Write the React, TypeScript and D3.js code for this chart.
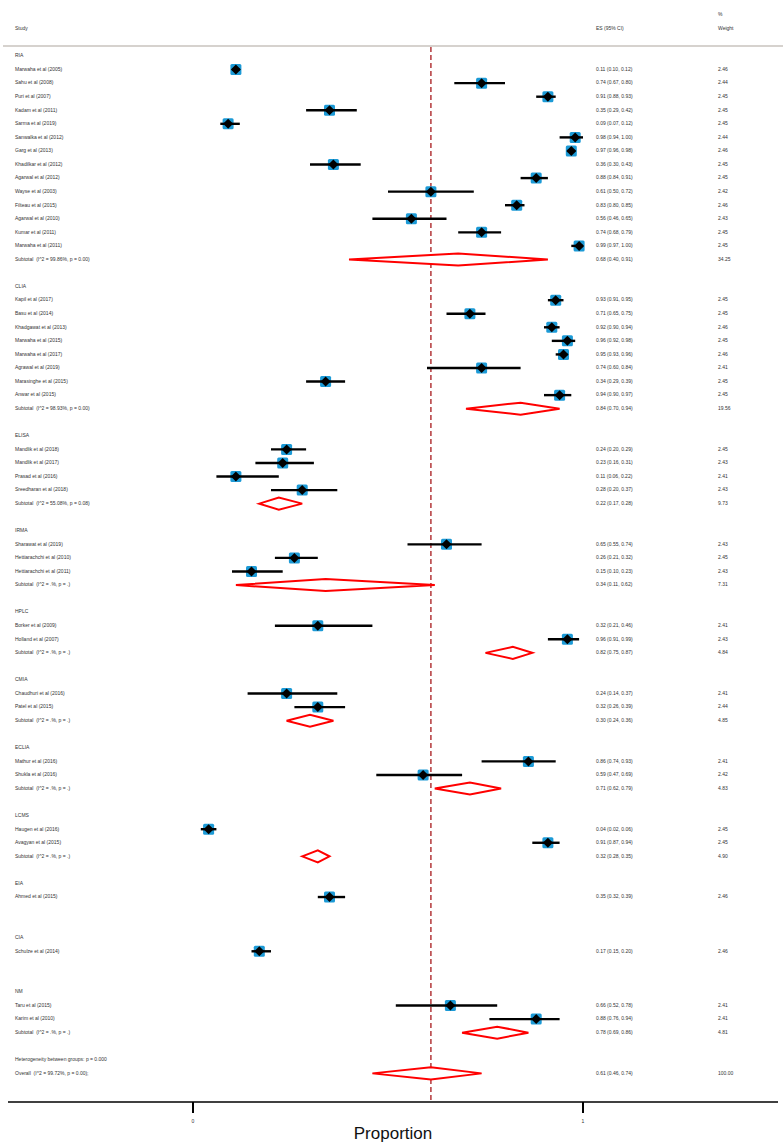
import React from "react";
import * as d3 from "d3";

// ---- Data ----
const groupNames = ["RIA", "CLIA", "ELISA", "IRMA", "HPLC", "CMIA", "ECLIA", "LCMS", "EIA", "CIA", "NM"];
const groupHet = [
  "(I^2 = 99.86%, p = 0.00)", "(I^2 = 98.93%, p = 0.00)", "(I^2 = 55.08%, p = 0.08)",
  "(I^2 = .%, p = .)", "(I^2 = .%, p = .)", "(I^2 = .%, p = .)", "(I^2 = .%, p = .)",
  "(I^2 = .%, p = .)", null, null, "(I^2 = .%, p = .)",
];
const groupES = [0.68, 0.84, 0.22, 0.34, 0.82, 0.30, 0.71, 0.32, null, null, 0.78];
const groupLo = [0.40, 0.70, 0.17, 0.11, 0.75, 0.24, 0.62, 0.28, null, null, 0.69];
const groupHi = [0.91, 0.94, 0.28, 0.62, 0.87, 0.36, 0.79, 0.35, null, null, 0.86];
const groupWeight = ["34.25", "19.56", "9.73", "7.31", "4.84", "4.85", "4.83", "4.90", null, null, "4.81"];

const studyNames = [
  "Marwaha et al (2005)", "Sahu et al  (2008)", "Puri et al (2007)", "Kadam et al (2011)",
  "Sarma et al (2019)", "Sanwalka et al (2012)", "Garg et al  (2013)", "Khadilkar et al (2012)",
  "Agarwal et al  (2012)", "Wayse et al (2003)", "Filteau et al (2015)", "Agarwal et al  (2010)",
  "Kumar et al (2011)", "Marwaha et al (2011)",
  "Kapil et al  (2017)", "Basu et al (2014)", "Khadgawat et al  (2013)", "Marwaha et al  (2015)",
  "Marwaha et al  (2017)", "Agrawal et al  (2019)", "Marasinghe et al  (2015)", "Anwar et al  (2015)",
  "Mandlik et al  (2018)", "Mandlik et al  (2017)", "Prasad et al (2016)", "Sreedharan et al  (2018)",
  "Sharawat et al  (2019)", "Hettiarachchi et al  (2010)", "Hettiarachchi et al  (2011)",
  "Borker et al  (2009)", "Holland et al  (2007)",
  "Chaudhuri et al  (2016)", "Patel et al  (2015)",
  "Mathur et al  (2016)", "Shukla et al  (2016)",
  "Haugen et al (2016)", "Avagyan et al (2015)",
  "Ahmed et al  (2015)",
  "Schulze et al  (2014)",
  "Taru et al  (2015)", "Karim et al (2010)",
];
const studyGroup = [
  0, 0, 0, 0, 0, 0, 0, 0, 0, 0, 0, 0, 0, 0,
  1, 1, 1, 1, 1, 1, 1, 1,
  2, 2, 2, 2,
  3, 3, 3,
  4, 4,
  5, 5,
  6, 6,
  7, 7,
  8,
  9,
  10, 10,
];
const studyES = [
  0.11, 0.74, 0.91, 0.35, 0.09, 0.98, 0.97, 0.36, 0.88, 0.61, 0.83, 0.56, 0.74, 0.99,
  0.93, 0.71, 0.92, 0.96, 0.95, 0.74, 0.34, 0.94,
  0.24, 0.23, 0.11, 0.28,
  0.65, 0.26, 0.15,
  0.32, 0.96,
  0.24, 0.32,
  0.86, 0.59,
  0.04, 0.91,
  0.35,
  0.17,
  0.66, 0.88,
];
const studyLo = [
  0.10, 0.67, 0.88, 0.29, 0.07, 0.94, 0.96, 0.30, 0.84, 0.50, 0.80, 0.46, 0.68, 0.97,
  0.91, 0.65, 0.90, 0.92, 0.93, 0.60, 0.29, 0.90,
  0.20, 0.16, 0.06, 0.20,
  0.55, 0.21, 0.10,
  0.21, 0.91,
  0.14, 0.26,
  0.74, 0.47,
  0.02, 0.87,
  0.32,
  0.15,
  0.52, 0.76,
];
const studyHi = [
  0.12, 0.80, 0.93, 0.42, 0.12, 1.00, 0.98, 0.43, 0.91, 0.72, 0.85, 0.65, 0.79, 1.00,
  0.95, 0.75, 0.94, 0.98, 0.96, 0.84, 0.39, 0.97,
  0.29, 0.31, 0.22, 0.37,
  0.74, 0.32, 0.23,
  0.46, 0.99,
  0.37, 0.39,
  0.93, 0.69,
  0.06, 0.94,
  0.39,
  0.20,
  0.78, 0.94,
];
const studyWeight = [
  "2.46", "2.44", "2.45", "2.45", "2.45", "2.44", "2.46", "2.45", "2.45", "2.42", "2.46", "2.43", "2.45", "2.45",
  "2.45", "2.45", "2.46", "2.45", "2.46", "2.41", "2.45", "2.45",
  "2.45", "2.43", "2.41", "2.43",
  "2.43", "2.45", "2.43",
  "2.41", "2.43",
  "2.41", "2.44",
  "2.41", "2.42",
  "2.45", "2.45",
  "2.46",
  "2.46",
  "2.41", "2.41",
];
const overall = { es: 0.61, lo: 0.46, hi: 0.74, weight: "100.00", het: "(I^2 = 99.72%, p = 0.00);" };
const betweenText = "Heterogeneity between groups: p = 0.000";
const xTicks = [0, 1];
const xLabel = "Proportion";

// ---- Layout ----
const W = 784;
const H = 1144;
const x = d3.scaleLinear().domain([0, 1]).range([193, 583]);
const rowY = d3.scaleLinear().domain([0, 1]).range([56, 56 + 13.565]);

const fmt = d3.format(".2f");
const esText = (e: number, l: number, h: number) => `${fmt(e)} (${fmt(l)}, ${fmt(h)})`;

type Row =
  | { kind: "header"; row: number; label: string }
  | { kind: "study"; row: number; i: number }
  | { kind: "subtotal"; row: number; g: number };

function buildRows(): Row[] {
  const rows: Row[] = [];
  let r = 0;
  groupNames.forEach((name, g) => {
    rows.push({ kind: "header", row: r++, label: name });
    studyGroup.forEach((sg, i) => {
      if (sg === g) rows.push({ kind: "study", row: r++, i });
    });
    if (groupES[g] != null) rows.push({ kind: "subtotal", row: r, g });
    r += 2;
  });
  return rows;
}

const rows = buildRows();
const lastRow = rows[rows.length - 1].row;
const hetRow = lastRow + 2;
const overallRow = hetRow + 1;

const FONT = "'Liberation Sans', Arial, sans-serif";
const TXT = "#333";
const LABEL_X = 15;
const ES_X = 596;
const W_X = 718;
const axisY = 1102;

function diamond(es: number, lo: number, hi: number, y: number) {
  const pts: [number, number][] = [
    [x(lo), y],
    [x(es), y - 6],
    [x(hi), y],
    [x(es), y + 6],
  ];
  return d3.line()(pts)! + "Z";
}

export default function App() {
  const sq = 11;
  const dm = 5;
  return (
    <svg width={W} height={H} style={{ display: "block", position: "absolute", left: 0, top: 0 }} fontFamily={FONT}>
      <rect width={W} height={H} fill="#fff" />
      {/* Header */}
      <text x={LABEL_X} y={29} fontSize={5} fill={TXT} dominantBaseline="middle">Study</text>
      <text x={ES_X} y={29} fontSize={5} fill={TXT} dominantBaseline="middle">ES (95% CI)</text>
      <text x={W_X} y={15} fontSize={5} fill={TXT} dominantBaseline="middle">%</text>
      <text x={W_X} y={29} fontSize={5} fill={TXT} dominantBaseline="middle">Weight</text>
      <line x1={3} x2={783} y1={46} y2={46} stroke="#d6d2ce" strokeWidth={2} />

      {/* Null/overall line */}
      <line x1={x(overall.es)} x2={x(overall.es)} y1={47} y2={axisY} stroke="#b3373a" strokeWidth={1.5} strokeDasharray="5,3" />

      {rows.map((r, k) => {
        const y = rowY(r.row);
        if (r.kind === "header") {
          return (
            <text key={k} x={LABEL_X} y={y} fontSize={5} fill={TXT} dominantBaseline="middle">{r.label}</text>
          );
        }
        if (r.kind === "study") {
          const i = r.i;
          const cx = x(studyES[i]);
          return (
            <g key={k}>
              <text x={LABEL_X} y={y} fontSize={5} fill={TXT} dominantBaseline="middle">{studyNames[i]}</text>
              <rect x={cx - sq / 2} y={y - sq / 2} width={sq} height={sq} rx={1.5} fill="#1c9ad6" />
              <line x1={x(studyLo[i])} x2={x(studyHi[i])} y1={y} y2={y} stroke="#000" strokeWidth={2.4} />
              <path d={`M${cx - dm},${y}L${cx},${y - dm}L${cx + dm},${y}L${cx},${y + dm}Z`} fill="#000" />
              <text x={ES_X} y={y} fontSize={5} fill={TXT} dominantBaseline="middle">
                {esText(studyES[i], studyLo[i], studyHi[i])}
              </text>
              <text x={W_X} y={y} fontSize={5} fill={TXT} dominantBaseline="middle">{studyWeight[i]}</text>
            </g>
          );
        }
        const g = r.g;
        return (
          <g key={k}>
            <text x={LABEL_X} y={y} fontSize={5} fill={TXT} dominantBaseline="middle" style={{ whiteSpace: "pre" }}>
              {"Subtotal  " + groupHet[g]}
            </text>
            <path d={diamond(groupES[g]!, groupLo[g]!, groupHi[g]!, y)} fill="#fff" stroke="#ff0000" strokeWidth={2} />
            <text x={ES_X} y={y} fontSize={5} fill={TXT} dominantBaseline="middle">
              {esText(groupES[g]!, groupLo[g]!, groupHi[g]!)}
            </text>
            <text x={W_X} y={y} fontSize={5} fill={TXT} dominantBaseline="middle">{groupWeight[g]}</text>
          </g>
        );
      })}

      {/* Heterogeneity and overall */}
      <text x={LABEL_X} y={rowY(hetRow)} fontSize={5} fill={TXT} dominantBaseline="middle">{betweenText}</text>
      <text x={LABEL_X} y={rowY(overallRow)} fontSize={5} fill={TXT} dominantBaseline="middle" style={{ whiteSpace: "pre" }}>
        {"Overall  " + overall.het}
      </text>
      <path d={diamond(overall.es, overall.lo, overall.hi, rowY(overallRow))} fill="#fff" stroke="#ff0000" strokeWidth={2} />
      <text x={ES_X} y={rowY(overallRow)} fontSize={5} fill={TXT} dominantBaseline="middle">
        {esText(overall.es, overall.lo, overall.hi)}
      </text>
      <text x={W_X} y={rowY(overallRow)} fontSize={5} fill={TXT} dominantBaseline="middle">{overall.weight}</text>

      {/* Axis */}
      <line x1={8} x2={778} y1={axisY} y2={axisY} stroke="#000" strokeWidth={1.5} />
      {xTicks.map((t) => (
        <g key={t}>
          <line x1={x(t)} x2={x(t)} y1={axisY} y2={axisY + 11} stroke="#000" strokeWidth={2} />
          <text x={x(t)} y={axisY + 20} fontSize={5} fill={TXT} textAnchor="middle" dominantBaseline="middle">{t}</text>
        </g>
      ))}
      <text x={393} y={1139} fontSize={17} fill="#111" textAnchor="middle">{xLabel}</text>
    </svg>
  );
}
